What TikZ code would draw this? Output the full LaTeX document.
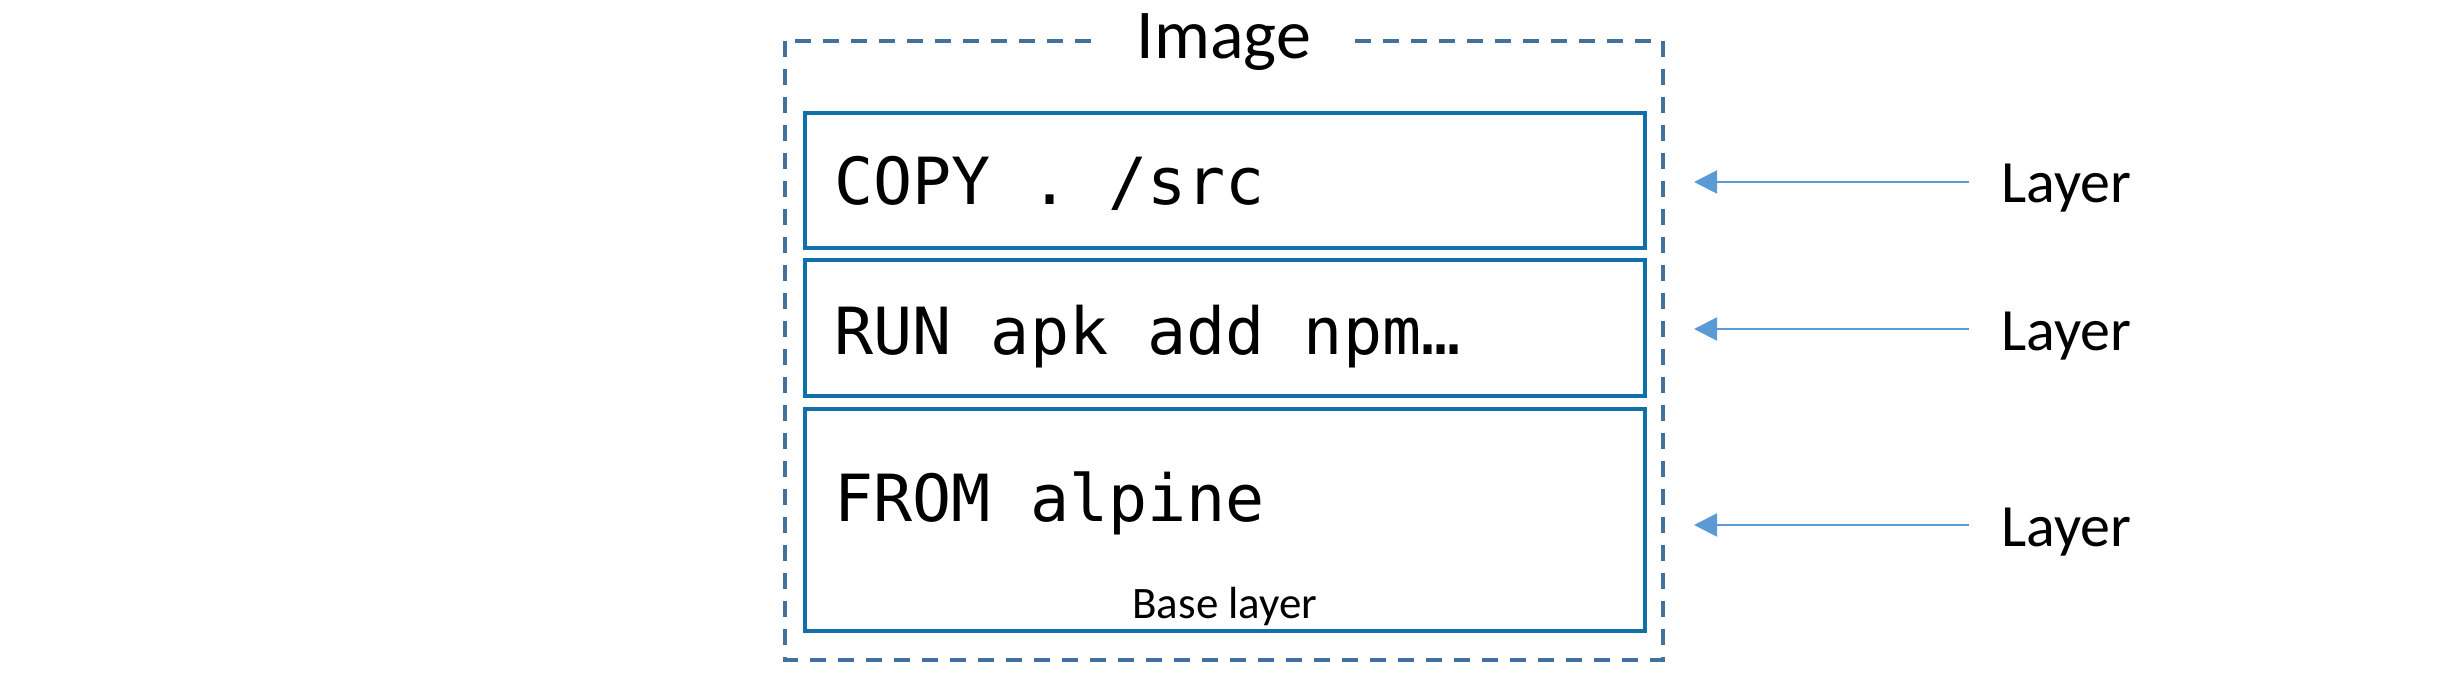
\documentclass[tikz,border=0pt]{standalone}
\usepackage{fontspec}
\setmainfont{Carlito}
\newfontfamily\monofnt{DejaVu Sans Mono}
\usetikzlibrary{arrows.meta}
\definecolor{boxblue}{HTML}{1170AA}
\definecolor{outerblue}{HTML}{41719C}
\definecolor{arrowblue}{HTML}{5B9BD5}
\tikzset{
  layerbox/.style={draw=boxblue, line width=1.75pt, minimum width=420pt, inner sep=0pt},
  outerbox/.style={draw=outerblue, line width=1.7pt, dash pattern=on 8pt off 6pt},
  codetext/.style={anchor=base west, inner sep=0pt, font=\monofnt\fontsize{32.5pt}{38pt}\selectfont},
  layerlbl/.style={anchor=base west, inner xsep=16pt, inner ysep=0pt, font=\fontsize{30pt}{36pt}\selectfont},
  arr/.style={draw=arrowblue, line width=1pt, -{Triangle[length=11.5pt,width=11.5pt]}},
}
\begin{document}
\begin{tikzpicture}[x=0.5pt,y=-0.5pt]
\useasboundingbox (0,0) rectangle (2454,673);
% outer dashed image box
\coordinate (o1) at (785,41);
\coordinate (o2) at (1663,660);
\draw[outerbox] (o1) rectangle (o2);
\node[fill=white, anchor=base, inner xsep=22pt, inner ysep=2pt, font=\fontsize{35pt}{40pt}\selectfont] (img) at (1224,59) {Image};
% layer boxes
\node[layerbox, minimum height=67.5pt] (b1) at (1225,180.5) {};
\node[layerbox, minimum height=68pt] (b2) at (1225,328) {};
\node[layerbox, minimum height=111pt] (b3) at (1225,520) {};
\node[codetext] (c1) at (834,205) {COPY . /src};
\node[codetext] (c2) at (834,355) {RUN apk add npm…};
\node[codetext] (c3) at (834,522) {FROM alpine};
\node[anchor=base, inner sep=0pt, font=\fontsize{22.5pt}{27pt}\selectfont] (base) at (1225,618) {Base layer};
% layer labels and arrows
\node[layerlbl] (l1) at (1969,203) {Layer};
\node[layerlbl] (l2) at (1969,351) {Layer};
\node[layerlbl] (l3) at (1969,547) {Layer};
\coordinate (t1) at (1694,182);
\coordinate (t2) at (1694,329);
\coordinate (t3) at (1694,525);
\draw[arr] (l1.west |- t1) -- (t1);
\draw[arr] (l2.west |- t2) -- (t2);
\draw[arr] (l3.west |- t3) -- (t3);
\end{tikzpicture}
\end{document}
